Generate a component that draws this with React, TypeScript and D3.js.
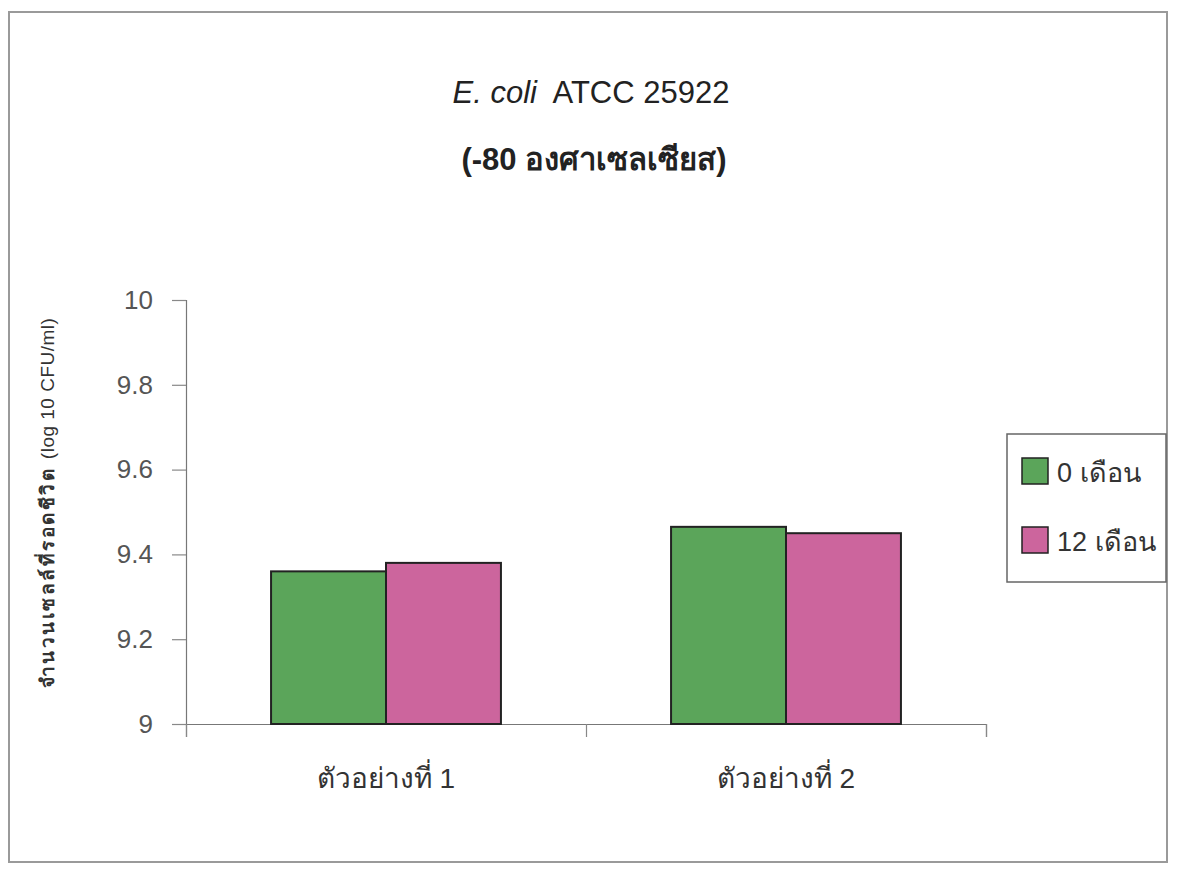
import React, { useEffect, useRef } from "react";
import * as d3 from "d3";

const categories = ["ตัวอย่างที่ 1", "ตัวอย่างที่ 2"];
const seriesNames = ["0 เดือน", "12 เดือน"];
const month0 = [9.36, 9.465];
const month12 = [9.38, 9.45];
const yTicks = [9, 9.2, 9.4, 9.6, 9.8, 10];
const colors = ["#5ba55a", "#cc659d"];

const W = 1177;
const H = 870;

export default function App() {
  const ref = useRef<SVGSVGElement>(null);

  useEffect(() => {
    const svg = d3.select(ref.current);
    svg.selectAll("*").remove();

    const font = "Arial, 'Liberation Sans', sans-serif";
    const left = 186, right = 986, top = 300, bottom = 724;

    // outer frame
    svg.append("rect")
      .attr("x", 9).attr("y", 12)
      .attr("width", 1158).attr("height", 850)
      .attr("fill", "#fff")
      .attr("stroke", "#9a9a9a")
      .attr("stroke-width", 2);

    // titles
    const title = svg.append("text")
      .attr("x", 591).attr("y", 103)
      .attr("text-anchor", "middle")
      .style("font-family", font)
      .style("font-size", "31px")
      .attr("fill", "#222");
    title.append("tspan").style("font-style", "italic").text("E. coli");
    title.append("tspan").attr("xml:space", "preserve").text("  ATCC 25922");

    svg.append("text")
      .attr("x", 594).attr("y", 170)
      .attr("text-anchor", "middle")
      .style("font-family", font)
      .style("font-size", "31px")
      .style("font-weight", "bold")
      .attr("fill", "#222")
      .text("(-80 องศาเซลเซียส)");

    const x0 = d3.scaleBand<string>().domain(categories).range([left, right]).paddingInner(0).paddingOuter(0);
    const x1 = d3.scaleBand<string>().domain(seriesNames).range([0, x0.bandwidth()]).paddingInner(0).paddingOuter(0.74);
    const y = d3.scaleLinear().domain([9, 10]).range([bottom, top]);

    // y axis
    const yAxis = svg.append("g")
      .attr("transform", `translate(${left},0)`)
      .call(d3.axisLeft(y).tickValues(yTicks).tickSize(14).tickPadding(19).tickFormat(d3.format("")));
    yAxis.select(".domain").attr("stroke", "#777").attr("stroke-width", 1.2);
    yAxis.selectAll(".tick line").attr("stroke", "#888").attr("stroke-width", 1.2);
    yAxis.selectAll(".tick text")
      .style("font-family", font)
      .style("font-size", "26px")
      .attr("fill", "#555");

    // x axis
    const xAxisScale = d3.scaleLinear().domain([0, categories.length]).range([left, right]);
    const xAxis = svg.append("g")
      .attr("transform", `translate(0,${bottom})`)
      .call(d3.axisBottom(xAxisScale).tickValues(d3.range(categories.length + 1)).tickSize(13).tickFormat(() => ""));
    xAxis.select(".domain").attr("stroke", "#777").attr("stroke-width", 1.2);
    xAxis.selectAll(".tick line").attr("stroke", "#888").attr("stroke-width", 1.2);

    // category labels
    svg.append("g").selectAll("text")
      .data(categories)
      .join("text")
      .attr("x", d => x0(d)! + x0.bandwidth() / 2)
      .attr("y", 788)
      .attr("text-anchor", "middle")
      .style("font-family", "'Liberation Sans Narrow', 'Arial Narrow', Arial, sans-serif")
      .style("font-size", "28px")
      .attr("fill", "#333")
      .text(d => d);

    // bars
    const series = [month0, month12];
    const groups = svg.append("g").selectAll("g")
      .data(categories)
      .join("g")
      .attr("transform", d => `translate(${x0(d)},0)`);
    groups.selectAll("rect")
      .data((_, i) => seriesNames.map((name, s) => ({ name, s, v: series[s][i] })))
      .join("rect")
      .attr("x", d => x1(d.name)!)
      .attr("y", d => y(d.v))
      .attr("width", x1.bandwidth())
      .attr("height", d => bottom - y(d.v))
      .attr("fill", d => colors[d.s])
      .attr("stroke", "#222")
      .attr("stroke-width", 2);

    // y label
    const yl = svg.append("text")
      .attr("transform", "translate(54,503) rotate(-90)")
      .attr("text-anchor", "middle")
      .style("font-family", font)
      .attr("fill", "#333");
    yl.append("tspan").style("font-size", "19px").style("font-weight", "bold").style("letter-spacing", "2.5px").text("จำนวนเซลล์ที่รอดชีวิต ");
    yl.append("tspan").style("font-size", "19px").style("letter-spacing", "0.5px").text("(log 10 CFU/ml)");

    // legend
    const lg = svg.append("g");
    lg.append("rect")
      .attr("x", 1007).attr("y", 434)
      .attr("width", 159).attr("height", 148)
      .attr("fill", "#fff")
      .attr("stroke", "#666")
      .attr("stroke-width", 1.5);
    const items = lg.selectAll("g.item")
      .data(seriesNames)
      .join("g")
      .attr("class", "item")
      .attr("transform", (_, i) => `translate(1022,${458 + i * 69})`);
    items.append("rect")
      .attr("width", 26).attr("height", 26)
      .attr("fill", (_, i) => colors[i])
      .attr("stroke", "#222")
      .attr("stroke-width", 1.5);
    items.append("text")
      .attr("x", 35).attr("y", 24)
      .style("font-family", font)
      .style("font-size", "27px")
      .attr("fill", "#333")
      .text(d => d);
  }, []);

  return <svg ref={ref} width={W} height={H} style={{ display: "block", position: "absolute", left: 0, top: 0 }} />;
}
